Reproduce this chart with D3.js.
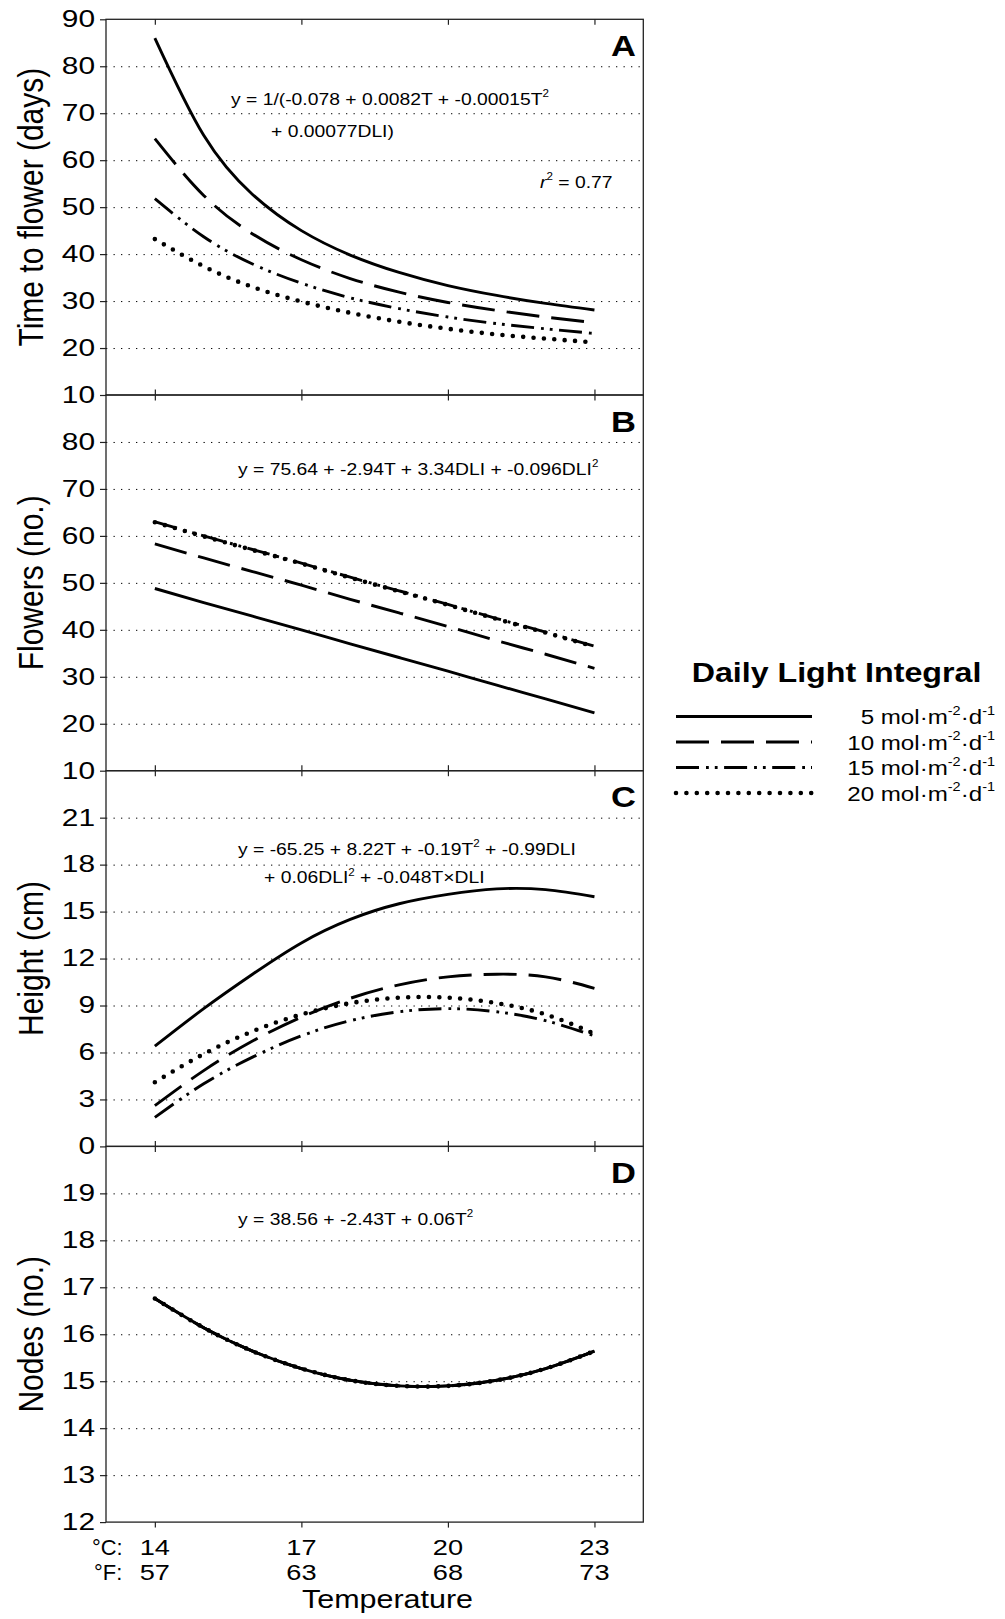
<!DOCTYPE html>
<html><head><meta charset="utf-8">
<script src="https://cdn.jsdelivr.net/npm/d3@7"></script>
<style>
body{margin:0;background:#fff}
svg{display:block}
text{font-family:"Liberation Sans",Arial,Helvetica,sans-serif;fill:#000}
</style>
</head><body>
<svg id="chart" width="1005" height="1619"></svg>
<script>
// ---------------- data ----------------
const temperatureC = [14, 15, 16, 17, 18, 19, 20, 21, 22, 23];
const dliLevels = [5, 10, 15, 20];
const dliLabels = ["5", "10", "15", "20"];

// Panel A: time to flower (days), one row per DLI level
const timeToFlower = [
  [86.0, 65.3, 52.7, 45.0, 39.8, 36.1, 33.3, 31.2, 29.5, 28.1],
  [64.6, 52.5, 44.3, 38.8, 34.8, 31.9, 29.7, 28.0, 26.6, 25.4],
  [51.8, 43.7, 37.9, 33.8, 30.7, 28.4, 26.6, 25.2, 24.1, 23.1],
  [43.2, 37.4, 33.0, 29.9, 27.5, 25.6, 24.1, 22.9, 22.0, 21.2]
];
// Panel B: flowers (no.)
const flowerCount = [
  [48.8, 45.8, 42.9, 40.0, 37.0, 34.1, 31.2, 28.2, 25.3, 22.3],
  [58.3, 55.3, 52.4, 49.5, 46.5, 43.6, 40.7, 37.7, 34.8, 31.8],
  [63.0, 60.0, 57.1, 54.2, 51.2, 48.3, 45.4, 42.4, 39.5, 36.5],
  [62.9, 59.9, 57.0, 54.1, 51.1, 48.2, 45.3, 42.3, 39.4, 36.4]
];
// Panel C: height (cm)
const plantHeight = [
  [6.4, 8.8, 11.0, 13.0, 14.5, 15.5, 16.1, 16.45, 16.4, 15.95],
  [2.6, 4.84, 6.73, 8.26, 9.46, 10.32, 10.83, 11.0, 10.83, 10.1],
  [1.85, 4.0, 5.7, 7.06, 8.03, 8.6, 8.8, 8.6, 8.03, 7.06],
  [4.1, 5.9, 7.35, 8.43, 9.15, 9.5, 9.5, 9.15, 8.43, 7.2]
];
// Panel D: nodes (no.) - identical for all DLI levels
const nodeCount = [
  [16.76, 16.14, 15.64, 15.27, 15.02, 14.90, 14.90, 15.02, 15.27, 15.64],
  [16.76, 16.14, 15.64, 15.27, 15.02, 14.90, 14.90, 15.02, 15.27, 15.64],
  [16.76, 16.14, 15.64, 15.27, 15.02, 14.90, 14.90, 15.02, 15.27, 15.64],
  [16.76, 16.14, 15.64, 15.27, 15.02, 14.90, 14.90, 15.02, 15.27, 15.64]
];

const xTickC = [14, 17, 20, 23];
const xTickF = [57, 63, 68, 73];
const ticksA = [10, 20, 30, 40, 50, 60, 70, 80, 90];
const ticksB = [10, 20, 30, 40, 50, 60, 70, 80];
const ticksC = [0, 3, 6, 9, 12, 15, 18, 21];
const ticksD = [12, 13, 14, 15, 16, 17, 18, 19];
const gridA = [20, 30, 40, 50, 60, 70, 80];
const gridB = [20, 30, 40, 50, 60, 70, 80];
const gridC = [3, 6, 9, 12, 15, 18, 21];
const gridD = [13, 14, 15, 16, 17, 18, 19];

// ---------------- layout ----------------
const S = 1.15;   // horizontal text stretch of the original figure
const ST = 1.3;   // stretch for tick numbers
const left = 106, right = 643.3, top0 = 19.3, panelH = 375.7;
const svg = d3.select("#chart");
const x = d3.scaleLinear().domain([13, 24]).range([left, right]);

const styles = [
  {w: 2.9, dash: null, cap: "butt"},
  {w: 2.9, dash: "33 12", cap: "butt"},
  {w: 2.9, dash: "23 7 2.8 6 2.8 6.5", cap: "butt"},
  {w: 4.6, dash: "0 10.4", cap: "round"}
];

function rich(g, tx, ty, parts, size, anchor, extra, sx) {
  const t = g.append("text")
    .attr("transform", `translate(${tx},${ty}) scale(${sx || S},1)` + (extra || ""))
    .attr("font-size", size)
    .attr("text-anchor", anchor || "start");
  let up = false;
  parts.forEach(p => {
    const sp = t.append("tspan").text(p.t);
    if (p.sup) {
      sp.attr("font-size", size * 0.6).attr("dy", -size * 0.45);
      up = true;
    } else if (up) {
      sp.attr("dy", size * 0.45);
      up = false;
    }
    if (p.it) sp.attr("font-style", "italic");
    if (p.b) sp.attr("font-weight", "bold");
  });
  return t;
}

const panels = [
  {key: "A", data: timeToFlower, domain: [10, 90], ticks: ticksA, grid: gridA, title: "Time to flower (days)"},
  {key: "B", data: flowerCount, domain: [10, 90], ticks: ticksB, grid: gridB, title: "Flowers (no.)"},
  {key: "C", data: plantHeight, domain: [0, 24], ticks: ticksC, grid: gridC, title: "Height (cm)"},
  {key: "D", data: nodeCount, domain: [12, 20], ticks: ticksD, grid: gridD, title: "Nodes (no.)"}
];

panels.forEach((p, i) => {
  const top = top0 + i * panelH, bottom = top + panelH;
  const y = d3.scaleLinear().domain(p.domain).range([bottom, top]);
  const g = svg.append("g");

  // grid
  const grid = g.append("g").attr("transform", `translate(${left},0)`)
    .call(d3.axisLeft(y).tickValues(p.grid).tickSize(-(right - left)).tickFormat(""));
  grid.select(".domain").remove();
  grid.selectAll("line").attr("stroke", "#000").attr("stroke-width", 1)
    .attr("stroke-dasharray", "1.3 6.2");

  // left axis with labels
  const ya = g.append("g").attr("transform", `translate(${left},0)`)
    .call(d3.axisLeft(y).tickValues(p.ticks).tickSize(6).tickPadding(5).tickFormat(d3.format("d")));
  ya.select(".domain").remove();
  ya.selectAll("line").attr("stroke", "#222").attr("stroke-width", 1.2);
  ya.selectAll("text").attr("font-size", 23).attr("fill", "#000")
    .attr("font-family", '"Liberation Sans",Arial,sans-serif')
    .attr("x", -11 / ST).attr("transform", `scale(${ST},1)`);

  // top ticks (inward)
  const xt = g.append("g").attr("transform", `translate(0,${top})`)
    .call(d3.axisTop(x).tickValues(xTickC).tickSize(-5.5).tickFormat(""));
  xt.select(".domain").remove();
  xt.selectAll("line").attr("stroke", "#222").attr("stroke-width", 1.2);
  // bottom ticks (inward, or outward on last panel)
  const xb = g.append("g").attr("transform", `translate(0,${bottom})`)
    .call(d3.axisBottom(x).tickValues(xTickC).tickSize(i === 3 ? 5.5 : -5.5).tickFormat(""));
  xb.select(".domain").remove();
  xb.selectAll("line").attr("stroke", "#222").attr("stroke-width", 1.2);

  // frame
  g.append("rect").attr("x", left).attr("y", top).attr("width", right - left).attr("height", panelH)
    .attr("fill", "none").attr("stroke", "#222").attr("stroke-width", 1.3);

  // curves
  const line = d3.line().x((d, j) => x(temperatureC[j])).y(d => y(d)).curve(d3.curveNatural);
  p.data.forEach((row, k) => {
    const st = styles[k];
    g.append("path").attr("d", line(row)).attr("fill", "none").attr("stroke", "#000")
      .attr("stroke-width", st.w).attr("stroke-linecap", st.cap)
      .attr("stroke-dasharray", st.dash);
  });

  // panel letter
  rich(g, 636, top + 36.5, [{t: p.key, b: true}], 30, "end");

  // y title
  rich(g, 43, (top + bottom) / 2, [{t: p.title}], 30, "middle", " rotate(-90)");
});

// equations
const eqSize = 16.8;
rich(svg, 231, 105, [{t: "y = 1/(-0.078 + 0.0082T + -0.00015T"}, {t: "2", sup: true}], eqSize);
rich(svg, 271, 136.5, [{t: "+ 0.00077DLI)"}], eqSize);
rich(svg, 540, 187.5, [{t: "r", it: true}, {t: "2", sup: true}, {t: " = 0.77"}], eqSize);
rich(svg, 238, 475, [{t: "y = 75.64 + -2.94T + 3.34DLI + -0.096DLI"}, {t: "2", sup: true}], eqSize);
rich(svg, 238, 855, [{t: "y = -65.25 + 8.22T + -0.19T"}, {t: "2", sup: true}, {t: " + -0.99DLI"}], eqSize);
rich(svg, 264, 883.3, [{t: "+ 0.06DLI"}, {t: "2", sup: true}, {t: " + -0.048T\u00D7DLI"}], eqSize);
rich(svg, 238, 1225, [{t: "y = 38.56 + -2.43T + 0.06T"}, {t: "2", sup: true}], eqSize);

// x-axis labels
rich(svg, 92, 1555, [{t: "\u00B0C:"}], 21.5, "start", "", 1.02);
rich(svg, 94, 1580, [{t: "\u00B0F:"}], 21.5, "start", "", 1.02);
xTickC.forEach((c, j) => {
  rich(svg, x(c), 1555, [{t: String(c)}], 22, "middle", "", ST * 0.95);
  rich(svg, x(c), 1580, [{t: String(xTickF[j])}], 22, "middle", "", ST * 0.95);
});
rich(svg, 387.5, 1608, [{t: "Temperature"}], 26.5, "middle");

// legend
rich(svg, 836.5, 681.7, [{t: "Daily Light Integral", b: true}], 28, "middle");
const legY = [716.5, 742, 767.5, 793];
dliLevels.forEach((d, k) => {
  const st = styles[k];
  svg.append("line").attr("x1", 676).attr("x2", 812).attr("y1", legY[k]).attr("y2", legY[k])
    .attr("stroke", "#000").attr("stroke-width", st.w).attr("stroke-linecap", st.cap)
    .attr("stroke-dasharray", st.dash);
  rich(svg, 995, legY[k] + 7.5, [{t: dliLabels[k] + " mol\u00B7m"}, {t: "-2", sup: true},
    {t: "\u00B7d"}, {t: "-1", sup: true}], 21, "end");
});
</script>
</body></html>
